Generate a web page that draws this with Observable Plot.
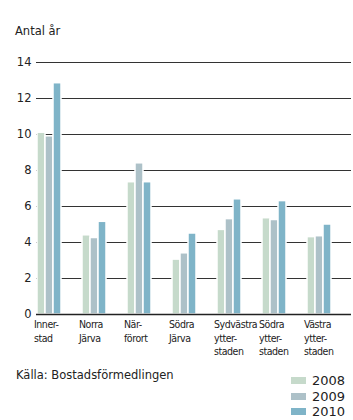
<!DOCTYPE html>
<html>
<head>
<meta charset="utf-8">
<script src="https://cdn.jsdelivr.net/npm/d3@7"></script>
<script src="https://cdn.jsdelivr.net/npm/@observablehq/plot@0.6"></script>
<style>
  body { margin: 0; background: #fff; font-family: "DejaVu Sans", sans-serif; color: #222; }
  #wrap { width: 353px; height: 420px; position: relative; overflow: hidden; }
  #title { height: 45px; box-sizing: border-box; padding: 24px 0 0 15px; font-size: 11.5px; line-height: 14px; }
  #footer { position: relative; height: 60px; }
  #caption { position: absolute; left: 16px; top: 8px; font-size: 11.5px; line-height: 14px; }
  #legend { position: absolute; left: 291px; top: 13px; font-size: 13px; }
  .row { display: flex; align-items: center; height: 15.5px; }
  .sw { width: 15px; height: 7px; margin-right: 6px; }
  g[aria-label="fx-axis tick label"] text { letter-spacing: -0.45px; }
</style>
</head>
<body>
<div id="wrap">
  <div id="title">Antal år</div>
  <div id="chart"></div>
  <div id="footer">
    <div id="caption">Källa: Bostadsförmedlingen</div>
    <div id="legend"></div>
  </div>
</div>
<script>
// Genomsnittlig kötid (år) per område
const districts = ["Innerstad", "Norra Järva", "Närförort", "Södra Järva", "Sydvästra ytterstaden", "Södra ytterstaden", "Västra ytterstaden"];
const tickLabels = ["Inner-\nstad", "Norra\nJärva", "När-\nförort", "Södra\nJärva", "Sydvästra\nytter-\nstaden", "Södra\nytter-\nstaden", "Västra\nytter-\nstaden"];
const years = ["2008", "2009", "2010"];
const v2008 = [10.1, 4.4, 7.35, 3.05, 4.7, 5.35, 4.3];
const v2009 = [9.9, 4.25, 8.4, 3.4, 5.3, 5.25, 4.35];
const v2010 = [12.85, 5.15, 7.35, 4.5, 6.4, 6.3, 5.0];
const yTicks = [0, 2, 4, 6, 8, 10, 12, 14];
const colors = ["#c6dacb", "#adc1c8", "#7fb4c8"];

const series = [v2008, v2009, v2010];
const data = [];
districts.forEach((d, i) => years.forEach((y, j) => data.push({district: d, year: y, value: series[j][i]})));
const labelOf = new Map(districts.map((d, i) => [d, tickLabels[i]]));

const chart = Plot.plot({
  width: 353,
  height: 315,
  marginTop: 17,
  marginBottom: 46,
  marginLeft: 33,
  marginRight: 0,
  style: {fontFamily: "DejaVu Sans, sans-serif", fontSize: "11px", color: "#222", background: "white"},
  fx: {domain: districts, paddingInner: 0, paddingOuter: 0, label: null},
  x: {domain: years, paddingInner: 0, paddingOuter: 1.22, align: 0.05, axis: null},
  y: {domain: [0, 14], label: null},
  color: {domain: years, range: colors},
  marks: [
    Plot.ruleY(yTicks.filter(t => t > 0), {stroke: "#333", strokeWidth: 1}),
    Plot.barY(data, {fx: "district", x: "year", y: "value", fill: "year", stroke: "white", strokeWidth: 1.5}),
    Plot.ruleY([0], {stroke: "#222", strokeWidth: 1.5}),
    Plot.axisY({ticks: yTicks, tickSize: 0, tickPadding: 5, label: null, fontSize: 11.5}),
    Plot.axisFx({anchor: "bottom", tickSize: 0, tickPadding: 4, textAnchor: "start", dx: -25, lineHeight: 1.3, fontSize: 10.5, label: null,
      fontFamily: "DejaVu Sans Condensed, Liberation Sans Narrow, Lato, sans-serif", tickFormat: d => labelOf.get(d)})
  ]
});
document.getElementById("chart").appendChild(chart);

const legend = document.getElementById("legend");
years.forEach((y, j) => {
  const row = document.createElement("div");
  row.className = "row";
  row.innerHTML = `<span class="sw" style="background:${colors[j]}"></span><span>${y}</span>`;
  legend.appendChild(row);
});
</script>
</body>
</html>
